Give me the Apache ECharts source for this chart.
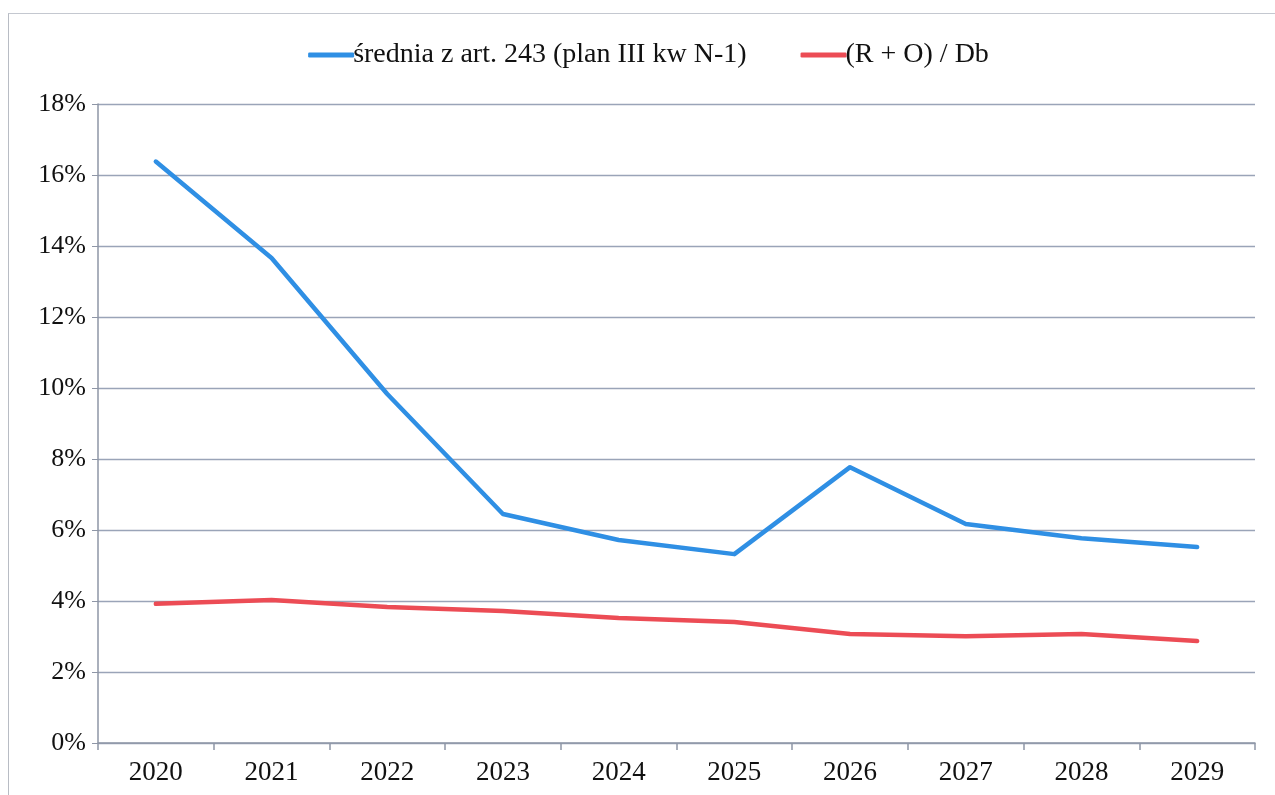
<!DOCTYPE html>
<html>
<head>
<meta charset="utf-8">
<script src="https://cdn.jsdelivr.net/npm/echarts@6/dist/echarts.min.js"></script>
<style>
  html, body { margin: 0; padding: 0; background: #fff; overflow: hidden; }
  #chart { position: absolute; left: 8px; top: 13px; width: 1280px; height: 800px;
           border-left: 1px solid #b8bcc4; border-top: 1px solid #c4c8d0; box-sizing: border-box; }
</style>
</head>
<body>
<div id="chart"></div>
<script>
// lata
var years = ["2020", "2021", "2022", "2023", "2024", "2025", "2026", "2027", "2028", "2029"];
// wartości w %
var srednia = [16.38, 13.66, 9.83, 6.45, 5.72, 5.32, 7.77, 6.17, 5.77, 5.52];
var roDb = [3.92, 4.03, 3.83, 3.72, 3.52, 3.41, 3.07, 3.01, 3.07, 2.87];
var seriesNames = ["średnia z art. 243 (plan III kw N-1)", "(R + O) / Db"];

var chart = echarts.init(document.getElementById('chart'));
var font = "'Liberation Serif', 'DejaVu Serif', serif";
var option = {
    animation: false,
    textStyle: { fontFamily: font },
    color: ['#2f8fe4', '#ec4c55'],
    legend: {
        data: seriesNames,
        top: 22,
        left: 'center',
        itemWidth: 46,
        itemHeight: 5,
        itemGap: 54,
        icon: 'roundRect',
        textStyle: { fontFamily: font, fontSize: 28, color: '#111', padding: [0, 0, 0, -6] }
    },
    grid: { left: 89, right: 33, top: 90, bottom: 70 },
    xAxis: {
        type: 'category',
        data: years,
        boundaryGap: true,
        axisLine: { lineStyle: { color: '#8e96a6', width: 1.5 } },
        axisTick: { show: true, length: 7, alignWithLabel: false, lineStyle: { color: '#8e96a6', width: 1.5 } },
        axisLabel: { fontFamily: font, fontSize: 27, color: '#111', margin: 16 }
    },
    yAxis: {
        type: 'value',
        min: 0,
        max: 18,
        interval: 2,
        axisLine: { show: true, lineStyle: { color: '#8e96a6', width: 1.5 } },
        axisTick: { show: true, length: 6, lineStyle: { color: '#8e96a6' } },
        axisLabel: { fontFamily: font, fontSize: 26, color: '#111', margin: 12, formatter: '{value}%' },
        splitLine: { lineStyle: { color: '#9aa4b8', width: 1.3 } }
    },
    series: [
        {
            name: seriesNames[0],
            type: 'line',
            data: srednia,
            symbol: 'none',
            lineStyle: { width: 4.5, cap: 'round', join: 'round' }
        },
        {
            name: seriesNames[1],
            type: 'line',
            data: roDb,
            symbol: 'none',
            lineStyle: { width: 4.5, cap: 'round', join: 'round' }
        }
    ]
};
chart.setOption(option);
</script>
</body>
</html>
